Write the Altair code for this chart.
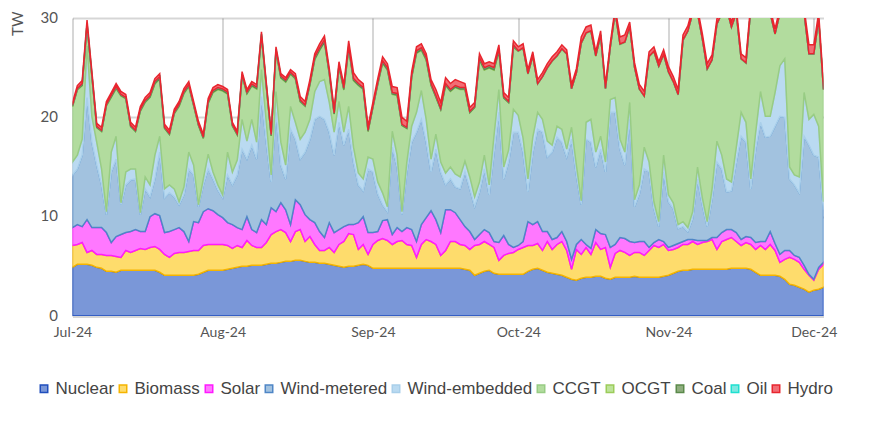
import altair as alt
import pandas as pd

# ---------------- data ----------------
dates = pd.date_range("2024-07-01", "2024-12-03", freq="D").strftime("%Y-%m-%d").tolist()

sources = ["Nuclear", "Biomass", "Solar", "Wind-metered", "Wind-embedded",
           "CCGT", "OCGT", "Coal", "Oil", "Hydro"]
fills = ["#7a97d8", "#fedc6c", "#ff78ff", "#a2c2df", "#badaf1",
         "#b2dc9e", "#bde39a", "#8fae7f", "#7de8e0", "#f26d75"]
strokes = ["#1f4ebd", "#f5b400", "#ff1aff", "#4f86c6", "#a9cfea",
           "#98cc84", "#9ccc5a", "#5b8a4b", "#1ee0d0", "#e8262f"]

# upper edge of each stacked layer (TW), one value per day
nuclear_top = [
    4.9, 5.2, 5.2, 5.2, 5.1, 4.9, 4.8, 4.5, 4.5, 4.4,
    4.6, 4.6, 4.6, 4.6, 4.6, 4.6, 4.6, 4.6, 4.4, 4.1,
    4.1, 4.1, 4.1, 4.1, 4.1, 4.1, 4.2, 4.4, 4.6, 4.6,
    4.6, 4.6, 4.7, 4.8, 4.9, 5.0, 5.0, 5.1, 5.1, 5.1,
    5.2, 5.3, 5.3, 5.4, 5.5, 5.5, 5.6, 5.6, 5.5, 5.4,
    5.4, 5.3, 5.3, 5.2, 5.1, 5.0, 4.9, 5.0, 5.0, 5.1,
    5.2, 5.1, 4.8, 4.8, 4.8, 4.8, 4.8, 4.8, 4.8, 4.8,
    4.8, 4.8, 4.8, 4.8, 4.8, 4.8, 4.8, 4.8, 4.8, 4.8,
    4.8, 4.7, 4.6, 4.1, 4.3, 4.5, 4.6, 4.3, 4.2, 4.2,
    4.2, 4.2, 4.2, 4.2, 4.5, 4.7, 4.8, 4.6, 4.4, 4.3,
    4.2, 4.1, 3.9, 3.7, 3.6, 3.8, 3.9, 3.9, 4.0, 4.0,
    3.8, 3.7, 3.9, 3.9, 3.9, 3.9, 4.0, 3.9, 3.9, 3.9,
    3.9, 3.9, 4.0, 4.1, 4.3, 4.5, 4.6, 4.6, 4.7, 4.7,
    4.7, 4.7, 4.7, 4.7, 4.7, 4.7, 4.8, 4.8, 4.8, 4.8,
    4.7, 4.4, 4.1, 4.1, 4.1, 4.1, 4.0, 3.7, 3.2, 3.1,
    2.9, 2.7, 2.4, 2.6, 2.7, 2.9]
biomass_top = [
    7.1, 7.2, 7.4, 6.4, 6.6, 6.2, 6.2, 6.1, 6.1, 6.0,
    5.9, 6.6, 6.4, 6.6, 6.8, 6.7, 6.9, 7.0, 6.7, 6.2,
    5.9, 6.3, 6.4, 6.4, 6.5, 6.6, 6.6, 7.1, 7.2, 7.2,
    7.2, 7.2, 7.1, 6.8, 7.1, 6.9, 7.6, 7.1, 6.9, 6.9,
    7.4, 8.2, 8.5, 8.7, 8.4, 7.5, 8.5, 8.7, 7.5, 8.0,
    7.2, 6.6, 6.6, 6.9, 6.4, 7.2, 7.5, 8.3, 8.2, 6.7,
    7.2, 6.2, 7.2, 7.6, 7.8, 7.6, 7.2, 7.5, 7.6, 7.2,
    7.1, 5.9, 7.2, 7.7, 7.5, 7.2, 6.1, 6.6, 7.5, 7.5,
    7.2, 7.1, 6.7, 7.1, 7.2, 7.5, 7.2, 6.9, 5.6, 6.1,
    6.3, 6.4, 6.7, 6.9, 7.1, 7.1, 7.3, 6.6, 7.5, 6.7,
    7.2, 7.5, 6.6, 4.7, 6.7, 6.2, 6.9, 6.2, 7.4, 6.7,
    6.9, 4.9, 6.3, 6.6, 6.4, 6.1, 6.4, 6.4, 6.1, 6.6,
    7.1, 6.9, 7.2, 6.6, 6.7, 6.9, 7.2, 7.2, 7.5, 7.2,
    7.4, 7.5, 7.7, 6.7, 7.5, 7.7, 7.9, 7.5, 7.1, 7.4,
    7.2, 6.7, 7.1, 6.7, 7.2, 6.6, 5.4, 5.7, 5.9, 5.7,
    5.4, 4.7, 4.1, 3.6, 4.7, 5.2]
solar_top = [
    8.9, 9.2, 9.0, 9.7, 8.9, 8.9, 8.9, 8.4, 7.4, 8.0,
    8.2, 8.4, 8.5, 8.7, 8.5, 8.5, 10.0, 10.3, 10.1, 8.4,
    8.5, 8.7, 8.9, 8.5, 7.5, 9.5, 9.4, 10.5, 10.8, 10.6,
    10.2, 9.9, 9.4, 9.2, 8.9, 8.7, 10.0, 8.7, 8.4, 9.7,
    9.2, 10.9, 10.5, 11.4, 10.7, 9.2, 11.7, 11.2, 10.2, 9.7,
    9.4, 8.5, 7.9, 9.4, 8.4, 8.7, 9.0, 9.2, 9.2, 9.4,
    10.0, 8.4, 8.4, 8.5, 9.6, 9.7, 8.2, 8.9, 8.5, 8.9,
    8.7, 7.5, 9.2, 9.9, 10.6, 9.7, 8.4, 10.7, 10.7, 10.4,
    9.7, 9.0, 8.5, 7.7, 8.2, 8.7, 8.4, 7.5, 7.4, 8.1,
    7.2, 6.9, 7.1, 7.5, 9.5, 9.2, 9.5, 8.5, 8.5, 7.7,
    7.9, 8.5, 7.5, 5.7, 7.2, 7.7, 7.2, 6.8, 8.7, 8.3,
    8.2, 6.9, 7.2, 7.9, 7.8, 7.5, 7.4, 7.5, 7.5, 6.9,
    7.4, 7.7, 7.5, 6.9, 7.1, 7.3, 7.5, 7.7, 7.7, 7.6,
    7.6, 7.6, 7.9, 7.9, 8.4, 8.7, 8.7, 8.4, 7.7, 8.0,
    7.9, 7.4, 7.5, 7.5, 8.5, 7.3, 6.2, 6.6, 6.6, 6.1,
    5.9, 5.1, 4.2, 3.7, 4.9, 5.4]
wind_metered_top = [
    14.2, 14.8, 16.2, 22.0, 17.5, 15.2, 13.2, 10.2, 14.5, 15.8,
    11.2, 13.2, 13.7, 13.8, 10.2, 12.8, 12.0, 13.8, 16.5, 11.9,
    12.4, 12.0, 11.2, 12.2, 14.8, 14.2, 11.0, 13.2, 14.8, 13.8,
    12.7, 11.9, 14.2, 13.2, 14.2, 16.8, 15.8, 17.2, 15.8, 22.1,
    17.5, 13.5, 20.5, 15.2, 13.8, 18.8, 17.8, 15.8, 16.5, 17.8,
    19.8, 20.1, 19.8, 18.5, 16.2, 19.5, 17.2, 18.8, 15.5, 13.2,
    12.6, 14.8, 14.5, 12.3, 11.2, 10.5, 17.0, 15.0, 10.2, 14.5,
    17.5, 18.5, 19.8, 17.5, 14.5, 16.8, 14.5, 13.2, 13.8, 13.0,
    12.8, 14.5, 12.8, 11.0, 12.5, 14.8, 12.2, 16.5, 20.5, 13.8,
    15.5, 18.5, 18.5, 16.5, 12.5, 16.5, 18.8, 18.5, 16.0, 16.5,
    18.0, 17.5, 16.0, 17.8, 14.2, 11.2, 17.8, 17.5, 15.0, 16.8,
    14.5, 20.5, 20.5, 16.8, 15.2, 19.8, 11.0, 12.3, 14.8, 14.5,
    10.8, 9.0, 14.5, 11.5, 10.8, 8.8, 9.0, 8.5, 9.8, 13.8,
    11.2, 9.0, 11.8, 15.5, 14.8, 12.5, 12.6, 15.5, 18.1, 17.5,
    12.8, 16.8, 19.5, 18.0, 18.1, 19.1, 20.1, 20.0, 13.8, 13.2,
    12.4, 18.1, 17.2, 16.2, 16.0, 10.7]
wind_embedded_top = [
    15.5, 16.2, 17.8, 27.2, 20.1, 17.5, 14.8, 10.5, 16.5, 18.1,
    11.4, 14.5, 14.8, 14.8, 10.4, 14.0, 13.2, 16.2, 18.1, 12.8,
    13.2, 12.8, 11.5, 13.0, 16.5, 15.2, 11.2, 13.8, 16.3, 14.5,
    13.2, 12.2, 16.5, 14.5, 15.7, 19.8, 17.6, 19.8, 17.5, 24.8,
    19.5, 14.2, 22.6, 17.5, 15.2, 21.1, 19.5, 17.8, 18.5, 19.8,
    22.6, 23.6, 23.8, 21.5, 18.5, 21.6, 18.5, 21.1, 17.0, 14.4,
    13.8, 16.0, 15.8, 13.5, 12.4, 11.0, 18.6, 16.2, 10.5, 15.5,
    19.1, 20.5, 22.7, 19.8, 15.8, 18.3, 15.5, 14.4, 15.0, 14.3,
    14.0, 15.6, 14.0, 12.0, 13.5, 16.2, 13.2, 18.2, 22.8, 15.0,
    16.7, 20.8, 20.2, 17.9, 13.8, 18.0, 20.5, 19.8, 17.6, 17.2,
    19.1, 18.8, 16.8, 19.0, 15.2, 11.6, 19.5, 19.8, 16.5, 18.1,
    15.5, 21.8, 22.0, 17.8, 16.5, 21.5, 11.7, 13.2, 17.0, 15.5,
    11.5, 9.5, 16.2, 12.2, 11.4, 9.2, 9.5, 8.9, 10.5, 15.0,
    11.9, 9.5, 12.8, 17.6, 16.2, 13.8, 13.5, 17.0, 20.5, 19.5,
    13.8, 18.5, 22.6, 20.1, 20.1, 22.5, 25.2, 25.9, 15.0, 14.2,
    14.0, 22.5, 19.8, 20.3, 19.1, 11.5]
total_top = [
    21.5, 23.2, 23.7, 29.8, 24.6, 19.4, 19.0, 21.6, 22.5, 23.4,
    22.6, 22.3, 19.5, 19.0, 21.1, 22.0, 22.5, 23.9, 24.4, 19.3,
    18.7, 20.8, 21.6, 22.9, 23.6, 21.6, 19.6, 18.3, 21.9, 23.0,
    23.3, 23.1, 22.8, 19.5, 18.6, 24.6, 22.8, 23.6, 23.3, 28.6,
    23.5, 18.5, 27.1, 24.4, 24.0, 24.8, 24.4, 22.1, 21.6, 23.8,
    26.4, 27.4, 28.2, 24.9, 20.8, 25.6, 23.3, 27.7, 24.5, 23.8,
    23.4, 19.1, 21.5, 23.9, 26.1, 25.4, 23.1, 23.0, 20.0, 19.6,
    24.6, 27.1, 27.4, 26.4, 23.8, 22.8, 21.5, 24.0, 23.4, 23.8,
    23.6, 23.4, 21.0, 21.5, 26.4, 25.4, 25.6, 25.4, 27.3, 22.5,
    22.0, 27.7, 27.1, 27.4, 24.8, 26.6, 23.8, 24.5, 25.4, 26.1,
    26.6, 27.3, 26.8, 23.3, 24.9, 28.1, 29.1, 29.3, 26.6, 28.7,
    23.3, 27.5, 31.0, 28.1, 28.3, 29.6, 25.5, 23.3, 22.6, 26.6,
    27.1, 25.6, 26.8, 25.1, 24.1, 22.8, 28.3, 29.2, 31.0, 31.0,
    28.4, 25.4, 26.3, 29.9, 31.0, 31.5, 29.6, 31.0, 26.4, 26.0,
    31.5, 32.0, 32.0, 31.5, 31.0, 28.9, 31.0, 32.0, 32.0, 31.5,
    31.0, 31.0, 27.3, 27.3, 30.5, 23.3]
hydro = [
    0.3, 0.3, 0.3, 0.35, 0.3, 0.3, 0.3, 0.3, 0.3, 0.3,
    0.3, 0.3, 0.3, 0.3, 0.3, 0.3, 0.3, 0.3, 0.3, 0.3,
    0.3, 0.3, 0.3, 0.3, 0.3, 0.3, 0.3, 0.3, 0.3, 0.3,
    0.3, 0.25, 0.25, 0.25, 0.25, 0.25, 0.25, 0.25, 0.25, 0.25,
    0.25, 0.25, 0.25, 0.25, 0.25, 0.25, 0.35, 0.35, 0.35, 0.35,
    0.35, 0.4, 0.4, 0.35, 0.35, 0.35, 0.35, 0.55, 0.6, 0.4,
    0.4, 0.4, 0.4, 0.4, 0.4, 0.4, 0.6, 0.6, 0.7, 0.6,
    0.4, 0.4, 0.4, 0.4, 0.4, 0.6, 0.6, 0.6, 0.6, 0.6,
    0.6, 0.4, 0.4, 0.4, 0.4, 0.4, 0.4, 0.4, 0.4, 0.4,
    0.4, 0.4, 0.4, 0.4, 0.4, 0.4, 0.4, 0.4, 0.4, 0.4,
    0.4, 0.4, 0.4, 0.4, 0.4, 0.6, 0.6, 0.6, 0.4, 0.4,
    0.4, 0.4, 0.4, 0.7, 0.7, 0.45, 0.45, 0.45, 0.45, 0.45,
    0.45, 0.45, 0.45, 0.5, 0.5, 0.5, 0.5, 0.5, 0.5, 0.5,
    0.5, 0.5, 0.5, 0.5, 0.5, 0.5, 0.5, 0.5, 0.5, 0.5,
    0.5, 0.5, 0.5, 0.5, 0.5, 0.5, 0.5, 0.5, 0.5, 0.5,
    0.5, 0.5, 0.9, 0.9, 0.6, 0.5]
coal = [
    0.1, 0.1, 0.15, 0.2, 0.15, 0.1, 0.1, 0.1, 0.15, 0.15,
    0.1, 0.1, 0.1, 0.1, 0.15, 0.15, 0.15, 0.2, 0.2, 0.1,
    0.1, 0.1, 0.15, 0.15, 0.15, 0.1, 0.1, 0.1, 0.15, 0.15,
    0.15, 0.15, 0.15, 0.1, 0.1, 0.15, 0.15, 0.15, 0.15, 0.2,
    0.15, 0.1, 0.2, 0.15, 0.15, 0.15, 0.15, 0.15, 0.1, 0.15,
    0.2, 0.2, 0.2, 0.15, 0.1, 0.15, 0.15, 0.2, 0.15, 0.15,
    0.15, 0.1, 0.1, 0.15, 0.2, 0.2, 0.15, 0.15, 0.1, 0.1,
    0.15, 0.2, 0.2, 0.2, 0.15, 0.15, 0.1, 0.15, 0.15, 0.15,
    0.15, 0.15, 0.1, 0.1, 0.2, 0.2, 0.2, 0.2, 0.2, 0.15,
    0.1, 0.2, 0.0, 0.0, 0.0, 0.0, 0.0, 0.0, 0.0, 0.0,
    0.0, 0.0, 0.0, 0.0, 0.0, 0.0, 0.0, 0.0, 0.0, 0.0,
    0.0, 0.0, 0.0, 0.0, 0.0, 0.0, 0.0, 0.0, 0.0, 0.0,
    0.0, 0.0, 0.0, 0.0, 0.0, 0.0, 0.0, 0.0, 0.0, 0.0,
    0.0, 0.0, 0.0, 0.0, 0.0, 0.0, 0.0, 0.0, 0.0, 0.0,
    0.0, 0.0, 0.0, 0.0, 0.0, 0.0, 0.0, 0.0, 0.0, 0.0,
    0.0, 0.0, 0.0, 0.0, 0.0, 0.0]
ocgt = [
    0.05, 0.05, 0.05, 0.05, 0.05, 0.03, 0.03, 0.05, 0.05, 0.05,
    0.05, 0.05, 0.03, 0.03, 0.05, 0.05, 0.05, 0.05, 0.05, 0.03,
    0.03, 0.05, 0.05, 0.05, 0.05, 0.05, 0.03, 0.03, 0.05, 0.05,
    0.05, 0.05, 0.05, 0.03, 0.03, 0.05, 0.05, 0.05, 0.05, 0.05,
    0.05, 0.03, 0.05, 0.05, 0.05, 0.05, 0.05, 0.03, 0.03, 0.05,
    0.05, 0.05, 0.05, 0.05, 0.03, 0.05, 0.05, 0.05, 0.05, 0.05,
    0.05, 0.03, 0.03, 0.05, 0.05, 0.05, 0.05, 0.05, 0.03, 0.03,
    0.05, 0.05, 0.05, 0.05, 0.05, 0.03, 0.03, 0.05, 0.05, 0.05,
    0.05, 0.05, 0.03, 0.03, 0.05, 0.05, 0.05, 0.05, 0.05, 0.03,
    0.03, 0.05, 0.05, 0.05, 0.05, 0.05, 0.03, 0.03, 0.05, 0.05,
    0.05, 0.05, 0.05, 0.03, 0.03, 0.05, 0.05, 0.05, 0.05, 0.05,
    0.03, 0.05, 0.05, 0.05, 0.05, 0.05, 0.03, 0.03, 0.05, 0.05,
    0.05, 0.05, 0.05, 0.05, 0.05, 0.05, 0.05, 0.05, 0.05, 0.05,
    0.05, 0.05, 0.05, 0.05, 0.05, 0.05, 0.05, 0.05, 0.05, 0.05,
    0.05, 0.05, 0.05, 0.05, 0.05, 0.05, 0.05, 0.05, 0.05, 0.05,
    0.05, 0.05, 0.05, 0.05, 0.05, 0.05]
oil = [
    0.0, 0.0, 0.0, 0.0, 0.0, 0.0, 0.0, 0.0, 0.0, 0.0,
    0.0, 0.0, 0.0, 0.0, 0.0, 0.0, 0.0, 0.0, 0.0, 0.0,
    0.0, 0.0, 0.0, 0.0, 0.0, 0.0, 0.0, 0.0, 0.0, 0.0,
    0.0, 0.0, 0.0, 0.0, 0.0, 0.0, 0.0, 0.0, 0.0, 0.0,
    0.0, 0.0, 0.0, 0.0, 0.0, 0.0, 0.0, 0.0, 0.0, 0.0,
    0.0, 0.0, 0.0, 0.0, 0.0, 0.0, 0.0, 0.0, 0.0, 0.0,
    0.0, 0.0, 0.0, 0.0, 0.0, 0.0, 0.0, 0.0, 0.0, 0.0,
    0.0, 0.0, 0.0, 0.0, 0.0, 0.0, 0.0, 0.0, 0.0, 0.0,
    0.0, 0.0, 0.0, 0.0, 0.0, 0.0, 0.0, 0.0, 0.0, 0.0,
    0.0, 0.0, 0.0, 0.0, 0.0, 0.0, 0.0, 0.0, 0.0, 0.0,
    0.0, 0.0, 0.0, 0.0, 0.0, 0.0, 0.0, 0.0, 0.0, 0.0,
    0.0, 0.0, 0.0, 0.0, 0.0, 0.0, 0.0, 0.0, 0.0, 0.0,
    0.0, 0.0, 0.0, 0.0, 0.0, 0.0, 0.0, 0.0, 0.0, 0.0,
    0.0, 0.0, 0.0, 0.0, 0.0, 0.0, 0.0, 0.0, 0.0, 0.0,
    0.0, 0.0, 0.0, 0.0, 0.0, 0.0, 0.0, 0.0, 0.0, 0.0,
    0.0, 0.0, 0.0, 0.0, 0.0, 0.0]

# ---------------- long table of per-source values ----------------
wide = pd.DataFrame({
    "date": dates,
    "Nuclear": nuclear_top,
    "Biomass": [b - n for b, n in zip(biomass_top, nuclear_top)],
    "Solar": [s - b for s, b in zip(solar_top, biomass_top)],
    "Wind-metered": [w - s for w, s in zip(wind_metered_top, solar_top)],
    "Wind-embedded": [e - w for e, w in zip(wind_embedded_top, wind_metered_top)],
    "CCGT": [t - e - o - c - oi - h for t, e, o, c, oi, h in
             zip(total_top, wind_embedded_top, ocgt, coal, oil, hydro)],
    "OCGT": ocgt,
    "Coal": coal,
    "Oil": oil,
    "Hydro": hydro,
})
df = wide.melt(id_vars="date", var_name="source", value_name="value")
df["value"] = df["value"].round(3)
df["order"] = df["source"].map({s: i for i, s in enumerate(sources)})

# ---------------- chart ----------------
x_scale = alt.Scale(type="utc", nice=False,
                    domain=[alt.DateTime(year=2024, month=7, date=1, utc=True),
                            alt.DateTime(year=2024, month=12, date=3, utc=True)])
y_scale = alt.Scale(domain=[0, 30], nice=False, zero=True)

x_axis = alt.Axis(values=[alt.DateTime(year=2024, month=m, date=1, utc=True) for m in range(7, 13)],
                  labelExpr="utcFormat(datum.value, '%b-%y')", labelFlush=False,
                  labelFontSize=14, labelColor="#555555",
                  labelPadding=9, ticks=False, domainColor="#d6d6d6", domainWidth=3,
                  grid=True)
y_axis = alt.Axis(values=[0, 10, 20, 30], labelFontSize=15, labelColor="#555555",
                  labelPadding=15, labelOffset=-1, ticks=False, domain=False, grid=True,
                  titleFontSize=15, titleColor="#555555", titleFontWeight="normal",
                  titleAngle=270, titleX=-62.5, titleY=-7, titleAlign="right",
                  titleBaseline="top")

legend = alt.Legend(orient="none", legendX=-37, legendY=362, direction="horizontal",
                    symbolType="square", symbolSize=56, symbolStrokeWidth=1.5,
                    labelFont="Liberation Sans", labelFontSize=17, labelColor="#444444",
                    columnPadding=0, labelOffset=3, padding=0, labelLimit=300)

base = alt.Chart(df).transform_stack(
    stack="value", groupby=["date"],
    sort=[alt.SortField("order", order="ascending")], as_=["y0", "y1"])

layers = []
for s in sources:
    layers.append(
        base.transform_filter(alt.datum.source == s)
        .mark_area(clip=True, strokeWidth=1.5, interpolate="linear")
        .encode(
            x=alt.X("date:T", scale=x_scale, axis=x_axis, title=None),
            y=alt.Y("y0:Q", scale=y_scale, axis=y_axis, title="TW"),
            y2="y1:Q",
            fill=alt.Fill("source:N", scale=alt.Scale(domain=sources, range=fills),
                          legend=legend, title=None),
            stroke=alt.Stroke("source:N", scale=alt.Scale(domain=sources, range=strokes),
                              legend=legend, title=None),
        )
    )

chart = alt.layer(*layers).properties(
    width=751, height=298,
    padding={"left": 64.5, "top": 10, "right": 40, "bottom": 100},
    autosize=alt.AutoSizeParams(type="none"),
).configure_axis(
    labelFont="Lato", titleFont="Lato",
    gridColor="rgba(0,0,0,0.16)", gridWidth=2, zindex=1,
).configure_view(strokeWidth=0)

chart.save("out.html", embed_options={"renderer": "svg", "actions": False})
